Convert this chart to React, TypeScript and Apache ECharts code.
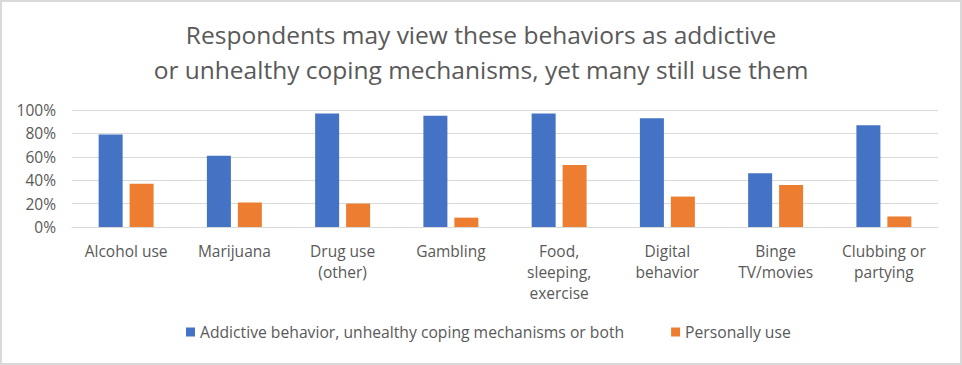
import React, { useEffect, useRef } from "react";
import * as echarts from "echarts";

const categories = [
  "Alcohol use",
  "Marijuana",
  "Drug use\n(other)",
  "Gambling",
  "Food,\nsleeping,\nexercise",
  "Digital\nbehavior",
  "Binge\nTV/movies",
  "Clubbing or\npartying",
];
const addictiveValues = [79, 61, 97, 95, 97, 93, 46, 87];
const personalValues = [37, 21, 20, 8, 53, 26, 36, 9];
const seriesNames = [
  "Addictive behavior, unhealthy coping mechanisms or both",
  "Personally use",
];
const titleText =
  "Respondents may view these behaviors as addictive\nor unhealthy coping mechanisms, yet many still use them";

const FONT = "'Open Sans', 'Noto Sans', sans-serif";
const TXT = "#595959";

export default function App() {
  const ref = useRef<HTMLDivElement>(null);
  useEffect(() => {
    if (!ref.current) return;
    const chart = echarts.init(ref.current, undefined, { renderer: "svg" });
    chart.setOption({
      animation: false,
      textStyle: { fontFamily: FONT },
      title: {
        text: titleText,
        left: "center",
        top: 12,
        textStyle: {
          fontFamily: FONT,
          fontSize: 24.5,
          fontWeight: "normal",
          color: TXT,
          lineHeight: 35,
        },
      },
      legend: {
        bottom: 20,
        left: 181,
        itemWidth: 9,
        itemHeight: 9,
        itemGap: 47,
        icon: "rect",
        textStyle: { fontFamily: FONT, fontSize: 15.7, color: TXT },
        data: seriesNames,
      },
      graphic: [
        {
          type: "rect",
          shape: { x: 1, y: 1, width: 960, height: 363 },
          style: { fill: "none", stroke: "#d9d9d9", lineWidth: 2 },
          silent: true,
        },
      ],
      grid: { left: 72, right: 24, top: 110, bottom: 138 },
      xAxis: {
        type: "category",
        data: categories,
        axisLine: { show: true, lineStyle: { color: "#d9d9d9", width: 1 } },
        axisTick: { show: false },
        axisLabel: {
          fontFamily: FONT,
          fontSize: 15.5,
          color: TXT,
          lineHeight: 21,
          margin: 13,
          interval: 0,
        },
      },
      yAxis: {
        type: "value",
        min: 0,
        max: 100,
        interval: 20,
        axisLine: { show: false },
        axisTick: { show: false },
        splitLine: { lineStyle: { color: "#d9d9d9", width: 1 } },
        axisLabel: {
          formatter: "{value}%",
          fontFamily: FONT,
          fontSize: 15.5,
          color: TXT,
          margin: 16,
        },
      },
      series: [
        {
          name: seriesNames[0],
          type: "bar",
          data: addictiveValues,
          barWidth: 24,
          barGap: "29%",
          itemStyle: { color: "#4472C4" },
        },
        {
          name: seriesNames[1],
          type: "bar",
          data: personalValues,
          barWidth: 24,
          itemStyle: { color: "#ED7D31" },
        },
      ],
    });
    return () => chart.dispose();
  }, []);
  return (
    <div
      ref={ref}
      style={{ position: "fixed", left: 0, top: 0, width: 962, height: 365, background: "#fff" }}
    />
  );
}
